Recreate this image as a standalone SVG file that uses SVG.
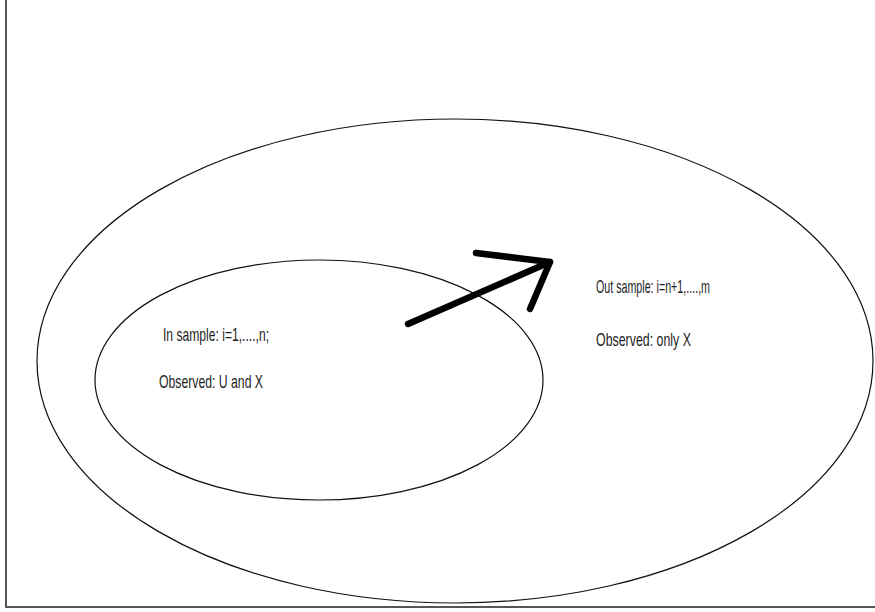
<svg xmlns="http://www.w3.org/2000/svg" width="875" height="612" viewBox="0 0 875 612">
  <style>
    .frame { stroke: #555; stroke-width: 2; fill: none; }
    .set { fill: none; stroke: #111; stroke-width: 1.2; }
    .lbl { font-family: "Liberation Sans", Arial, sans-serif; font-size: 19px; fill: #1e1e1e; }
    .arrow { fill: none; stroke: #000; stroke-width: 6.5; stroke-linecap: round; stroke-linejoin: round; }
  </style>
  <rect width="875" height="612" fill="#fff"/>
  <!-- page frame: left and bottom edges -->
  <path class="frame" d="M6 0 V607 H875"/>

  <g id="population">
    <ellipse class="set" cx="455" cy="361" rx="418" ry="242"/>
    <text class="lbl" x="596" y="293" textLength="114" lengthAdjust="spacingAndGlyphs">Out sample: i=n+1,....,m</text>
    <text class="lbl" x="596" y="346" textLength="95" lengthAdjust="spacingAndGlyphs">Observed: only X</text>
  </g>

  <g id="sample">
    <ellipse class="set" cx="319" cy="380" rx="224" ry="120"/>
    <text class="lbl" x="163" y="341" textLength="106" lengthAdjust="spacingAndGlyphs">In sample: i=1,....,n;</text>
    <text class="lbl" x="159" y="388" textLength="104" lengthAdjust="spacingAndGlyphs">Observed: U and X</text>
  </g>

  <g id="connectors">
    <path class="arrow" d="M408 324 L550 262"/>
    <path class="arrow" d="M476 253 L550 262 L530 309"/>
  </g>
</svg>
